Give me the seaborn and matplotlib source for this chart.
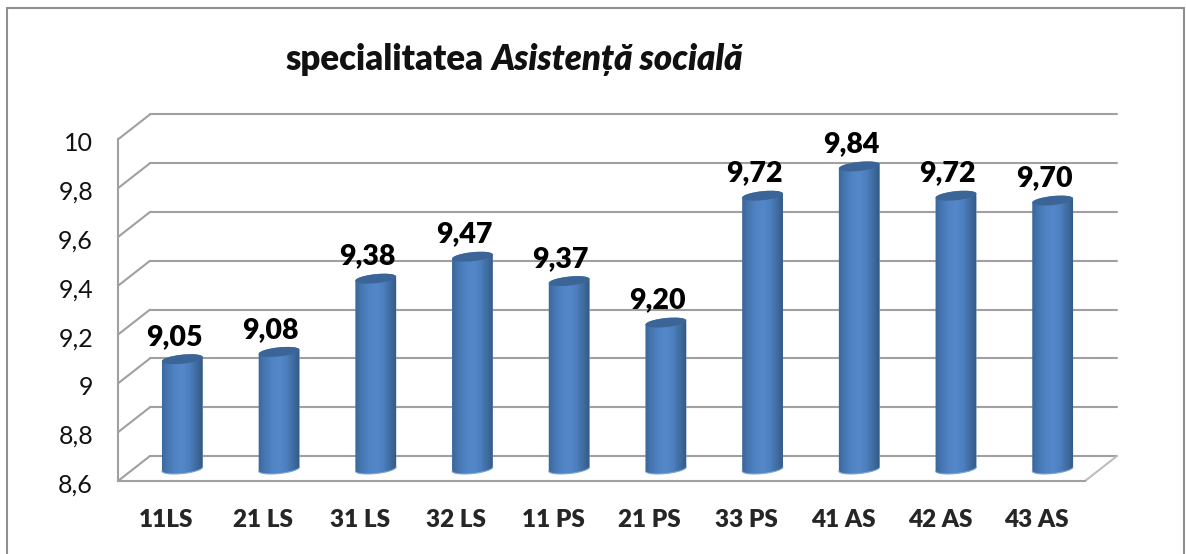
import numpy as np
import matplotlib
matplotlib.use('Agg')
import matplotlib.pyplot as plt
import seaborn as sns
from matplotlib.colors import LinearSegmentedColormap
from matplotlib.lines import Line2D
from matplotlib.patches import Ellipse
from matplotlib.path import Path
from matplotlib.transforms import IdentityTransform, ScaledTranslation

# Valeurs
clase = ['11LS', '21 LS', '31 LS', '32 LS', '11 PS', '21 PS', '33 PS', '41 AS', '42 AS', '43 AS']
medii = [9.05, 9.08, 9.38, 9.47, 9.37, 9.20, 9.72, 9.84, 9.72, 9.70]
etichete = ['9,05', '9,08', '9,38', '9,47', '9,37', '9,20', '9,72', '9,84', '9,72', '9,70']
y_ticks = [8.6, 8.8, 9.0, 9.2, 9.4, 9.6, 9.8, 10.0]
y_labels = ['8,6', '8,8', '9', '9,2', '9,4', '9,6', '9,8', '10']

W, H = 1186, 554
GRIS = '#a0a0a0'

sns.set_style('white')
plt.rcParams['font.family'] = ['Lato', 'DejaVu Sans']

fig = plt.figure(figsize=(W / 100, H / 100), dpi=100)
ax = fig.add_axes([118 / W, (H - 481) / H, 967 / W, 341.6 / H])

sns.barplot(x=clase, y=medii, color='#4a7cba', width=0.413, ax=ax, zorder=3)
ax.set_xlim(-0.5, 9.5)
ax.set_ylim(8.6, 10)

# Ticks du plan avant
ax.set_yticks(y_ticks)
ax.set_yticklabels(y_labels)
ax.tick_params(axis='y', length=0, pad=18, labelsize=18, labelcolor='#111111')
ax.tick_params(axis='x', length=0, pad=20.5, labelsize=17.5)
for lab in ax.get_xticklabels():
    lab.set_fontweight('heavy')
for lab in ax.get_yticklabels():
    lab.set_transform(lab.get_transform() + ScaledTranslation(0, -2 / 100, fig.dpi_scale_trans))
sns.despine(ax=ax, top=True, right=True)
for s in ['left', 'bottom']:
    ax.spines[s].set_color(GRIS)
    ax.spines[s].set_linewidth(1.5)
ax.patch.set_alpha(0)

# Paroi du fond, decalee de 32 px et 25 px
dx = 32 / 96.7
dy = 25 / 244
for t in y_ticks:
    ax.plot([-0.5, -0.5 + dx], [t, t + dy], color=GRIS, lw=1.5, clip_on=False, zorder=1)
    ax.plot([-0.5 + dx, 9.5 + dx], [t + dy, t + dy], color=GRIS, lw=1.5, clip_on=False, zorder=1)
ax.plot([9.5, 9.5 + dx], [8.6, 8.6 + dy], color='#bdbdbd', lw=1.5, clip_on=False, zorder=1)

# Cylindres
decal = ScaledTranslation(16 / 100, 12 / 100, fig.dpi_scale_trans)
degrade = LinearSegmentedColormap.from_list(
    'cilindru', ['#386596', '#4676b2', '#4f83c3', '#5488ca', '#4d80bf', '#3f6b9f', '#30567f'])
gradient = np.linspace(0, 1, 128).reshape(1, -1)
a, b, unghi = 20.5, 4.5, np.deg2rad(6)


def arc(cx, cy, debut, fin):
    t = np.linspace(debut, fin, 40)
    xs = cx + a * np.cos(t) * np.cos(unghi) - b * np.sin(t) * np.sin(unghi)
    ys = cy + a * np.cos(t) * np.sin(unghi) + b * np.sin(t) * np.cos(unghi)
    return np.column_stack([xs, ys])


for bar, val, txt in zip(ax.patches, medii, etichete):
    poz = bar.get_x() + bar.get_width() / 2
    cx, y_sus = (ax.transData + decal).transform((poz, val))
    _, y_jos = (ax.transData + decal).transform((poz, 8.6))

    sus = arc(cx, y_sus, 0, np.pi)
    jos = arc(cx, y_jos, np.pi, 2 * np.pi)
    contur = Path(np.vstack([jos, sus, jos[:1]]))

    bar.set_transform(ax.transData + decal)
    bar.set_clip_box(fig.bbox)
    bar.set_clip_path(contur, IdentityTransform())

    im = ax.imshow(gradient, cmap=degrade, aspect='auto', zorder=3.1,
                   extent=(bar.get_x() - 0.02, bar.get_x() + bar.get_width() + 0.02, 8.3, val + 0.1))
    im.set_transform(ax.transData + decal)
    im.set_clip_box(fig.bbox)
    im.set_clip_path(contur, IdentityTransform())

    ax.plot(jos[:, 0], jos[:, 1], color='#7fa6d6', lw=0.8, transform=IdentityTransform(),
            clip_on=False, zorder=3.2)
    ax.add_patch(Ellipse((cx, y_sus), 2 * a, 2 * b, angle=6, facecolor='#3b6597', edgecolor='none',
                         transform=IdentityTransform(), clip_on=False, zorder=3.3))

    ax.annotate(txt, (poz, val), xycoords=ax.transData + decal, xytext=(-6, 16),
                textcoords='offset points', ha='center', va='center', fontsize=20.5,
                fontweight='heavy', color='black', zorder=5, annotation_clip=False)

ax.set_xlim(-0.5, 9.5)
ax.set_ylim(8.6, 10)

# Cadre exterieur (pas de bord bas visible)
for xs, ys in [([7, 7], [8, H]), ([7, 1184], [8, 8]), ([1184, 1184], [8, H])]:
    fig.add_artist(Line2D(np.array(xs) / W, 1 - np.array(ys) / H, color='#8f8f8f', lw=1.5))

# Titre en deux morceaux : gras puis gras italique
t1 = fig.text(285 / W, 1 - 60 / H, 'specialitatea', fontsize=25, fontweight='heavy', va='center', color='#111111')
fig.canvas.draw()
x_fin = t1.get_window_extent().x1
fig.text((x_fin + 8) / W, 1 - 60 / H, 'Asistență socială', fontsize=25, fontweight='heavy',
         fontstyle='italic', va='center', color='#111111')

fig.savefig('out.png', dpi=100)
